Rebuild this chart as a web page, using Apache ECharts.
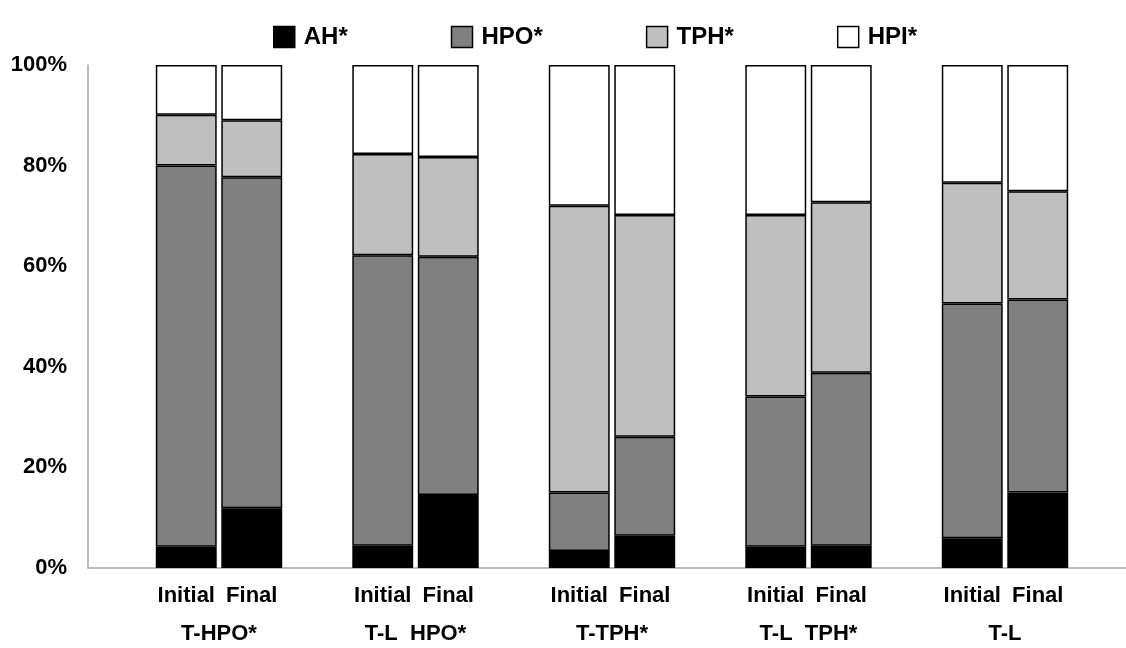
<!DOCTYPE html>
<html>
<head>
<meta charset="utf-8">
<script src="https://cdn.jsdelivr.net/npm/echarts@6/dist/echarts.min.js"></script>
<style>
html,body{margin:0;padding:0;background:#fff;}
#chart{width:1126px;height:648px;}
</style>
</head>
<body>
<div id="chart"></div>
<script>
// ---- data ----
var groups = ['T-HPO*', 'T-L  HPO*', 'T-TPH*', 'T-L  TPH*', 'T-L'];
var stages = ['Initial', 'Final'];
var seriesNames = ['AH*', 'HPO*', 'TPH*', 'HPI*'];
// percentages per bar, order: group1 Initial, group1 Final, group2 Initial, ...
var AH  = [4.2, 11.9, 4.4, 14.5, 3.4, 6.4, 4.2, 4.4, 5.9, 15.0];
var HPO = [75.8, 65.8, 57.8, 47.4, 11.6, 19.7, 29.9, 34.4, 46.7, 38.4];
var TPH = [10.1, 11.3, 20.1, 19.8, 57.0, 44.1, 36.1, 33.9, 24.0, 21.5];
var HPI = [9.9, 11.0, 17.7, 18.3, 28.0, 29.8, 29.8, 27.3, 23.4, 25.1];
var yTicks = [0, 20, 40, 60, 80, 100];

// ---- build category layout: blank spacer before each group, one trailing blank ----
var cats = [];
var groupAxis = [];
groups.forEach(function (g) {
  cats.push('');
  stages.forEach(function (s) { cats.push(s); });
});
cats.push('');
// boundary axis (17 points) for group labels centred between Initial and Final
for (var i = 0; i <= cats.length; i++) groupAxis.push('');
groups.forEach(function (g, gi) { groupAxis[gi * 3 + 2] = g; });

function expand(arr) {
  var out = [];
  var k = 0;
  groups.forEach(function () {
    out.push(null);
    stages.forEach(function () { out.push(arr[k++]); });
  });
  out.push(null);
  return out;
}

var colors = ['#000000', '#808080', '#bfbfbf', '#ffffff'];
var valuesList = [AH, HPO, TPH, HPI];

var font = 'Liberation Sans, Arial, sans-serif';

var series = seriesNames.map(function (n, i) {
  return {
    name: n,
    type: 'bar',
    stack: 'total',
    xAxisIndex: 0,
    yAxisIndex: 0,
    barCategoryGap: '7%',
    data: expand(valuesList[i]),
    itemStyle: { color: colors[i], borderColor: '#000', borderWidth: 1.5 },
    emphasis: { disabled: true }
  };
});

var chart = echarts.init(document.getElementById('chart'), null, { renderer: 'canvas' });
chart.setOption({
  animation: false,
  backgroundColor: '#fff',
  legend: {
    data: seriesNames,
    top: 20,
    left: 268,
    icon: 'rect',
    itemWidth: 21,
    itemHeight: 21,
    itemGap: 103,
    textStyle: { fontFamily: font, fontWeight: 'bold', fontSize: 24, color: '#000', padding: [0, 0, 0, 4] },
    itemStyle: { borderColor: '#000', borderWidth: 1.5 }
  },
  grid: { left: 88, width: 1048, top: 65, bottom: 80, containLabel: false, outerBoundsMode: 'none' },
  xAxis: [
    {
      type: 'category',
      data: cats,
      axisLine: { show: true, lineStyle: { color: '#a6a6a6', width: 1.5 } },
      axisTick: { show: false },
      axisLabel: { interval: 0, margin: 17, fontFamily: font, fontWeight: 'bold', fontSize: 22, color: '#000' }
    },
    {
      type: 'category',
      position: 'bottom',
      boundaryGap: false,
      data: groupAxis,
      axisLine: { show: false },
      axisTick: { show: false },
      axisLabel: { interval: 0, margin: 55, fontFamily: font, fontWeight: 'bold', fontSize: 22, color: '#000' }
    }
  ],
  yAxis: {
    type: 'value',
    min: yTicks[0],
    max: yTicks[yTicks.length - 1],
    interval: yTicks[1] - yTicks[0],
    axisLine: { show: true, lineStyle: { color: '#a6a6a6', width: 1.5 } },
    axisTick: { show: false },
    splitLine: { show: false },
    axisLabel: { margin: 21, formatter: '{value}%', fontFamily: font, fontWeight: 'bold', fontSize: 22, color: '#000' }
  },
  series: series
});
</script>
</body>
</html>
